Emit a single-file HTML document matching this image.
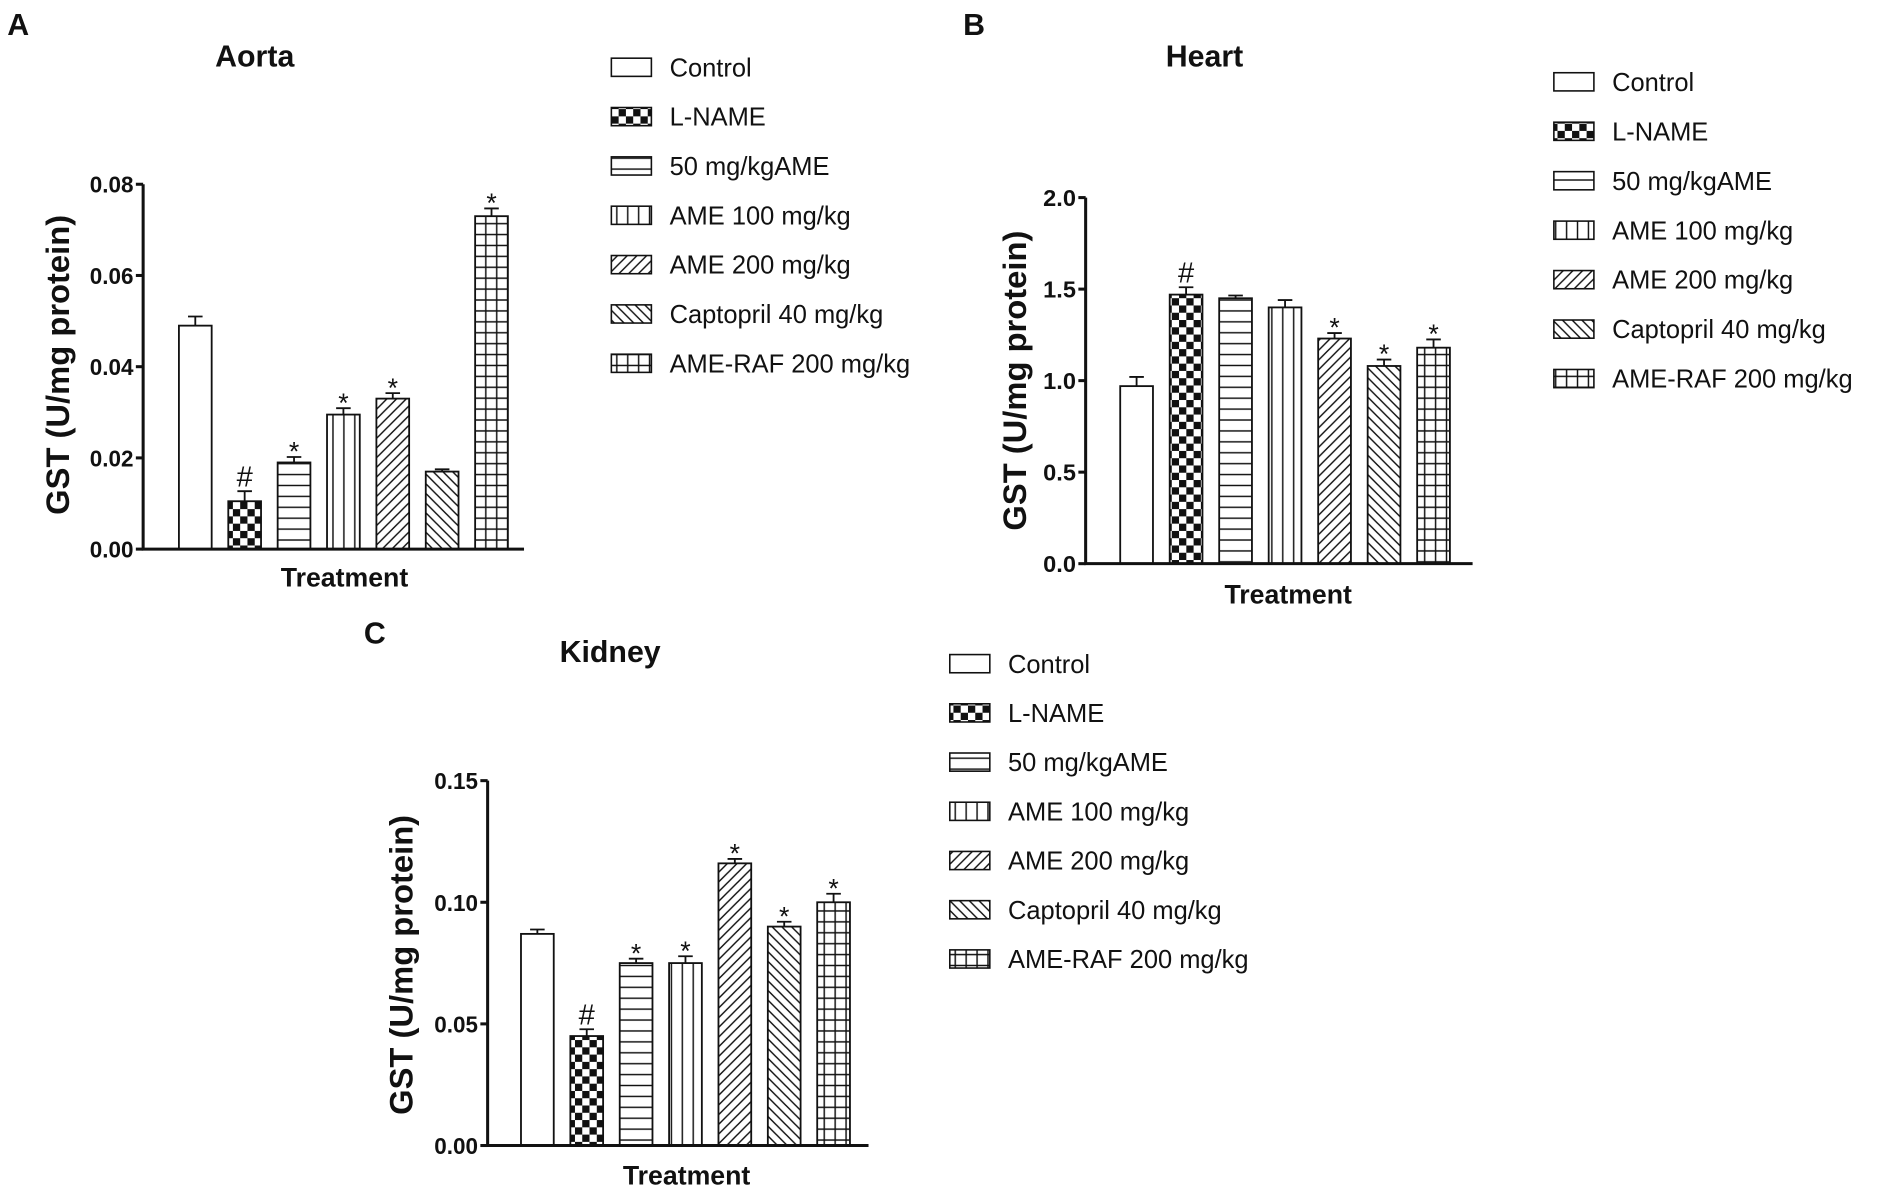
<!DOCTYPE html>
<html><head><meta charset="utf-8"><style>
html,body{margin:0;padding:0;background:#fff;}
svg{display:block;}
text{font-family:"Liberation Sans",sans-serif;fill:#111;}
.b{font-weight:bold;}
.leg{font-family:"Liberation Sans Narrow","Liberation Sans",sans-serif;font-size:21px;}
</style></head><body>
<svg id="fig" width="1902" height="1194" viewBox="0 0 1568 985" preserveAspectRatio="none" xmlns="http://www.w3.org/2000/svg">
<defs>
<pattern id="p-check" patternUnits="userSpaceOnUse" width="12" height="12"><rect width="12" height="12" fill="#fff"/><rect width="6" height="6" fill="#111"/><rect x="6" y="6" width="6" height="6" fill="#111"/></pattern>
<pattern id="p-hor" patternUnits="userSpaceOnUse" width="10" height="9"><rect width="10" height="9" fill="#fff"/><line x1="0" y1="4.5" x2="10" y2="4.5" stroke="#111" stroke-width="1.2"/></pattern>
<pattern id="p-ver" patternUnits="userSpaceOnUse" width="9" height="10"><rect width="9" height="10" fill="#fff"/><line x1="4.5" y1="0" x2="4.5" y2="10" stroke="#111" stroke-width="1.2"/></pattern>
<pattern id="p-fwd" patternUnits="userSpaceOnUse" width="8" height="8"><rect width="8" height="8" fill="#fff"/><path d="M-2,2 L2,-2 M0,8 L8,0 M6,10 L10,6" stroke="#111" stroke-width="1.2"/></pattern>
<pattern id="p-bwd" patternUnits="userSpaceOnUse" width="8" height="8"><rect width="8" height="8" fill="#fff"/><path d="M-2,6 L2,10 M0,0 L8,8 M6,-2 L10,2" stroke="#111" stroke-width="1.2"/></pattern>
<pattern id="p-grid" patternUnits="userSpaceOnUse" width="9" height="9"><rect width="9" height="9" fill="#fff"/><path d="M4.5,0 V9 M0,4.5 H9" stroke="#111" stroke-width="1.2"/></pattern>
</defs>
</svg>
<script>
var categories = ["Control","L-NAME","50 mg/kgAME","AME 100 mg/kg","AME 200 mg/kg","Captopril 40 mg/kg","AME-RAF 200 mg/kg"];
var fills = ["#fff","url(#p-check)","url(#p-hor)","url(#p-ver)","url(#p-fwd)","url(#p-bwd)","url(#p-grid)"];
var aortaValues = [0.049,0.0105,0.019,0.0295,0.033,0.017,0.073];
var aortaErrors = [0.002,0.0022,0.0012,0.0014,0.0012,0.0005,0.0017];
var aortaMarks = ["","#","*","*","*","","*"];
var aortaTicks = ["0.00","0.02","0.04","0.06","0.08"];
var heartValues = [0.97,1.47,1.45,1.40,1.23,1.08,1.18];
var heartErrors = [0.05,0.04,0.015,0.04,0.03,0.035,0.045];
var heartMarks = ["","#","","","*","*","*"];
var heartTicks = ["0.0","0.5","1.0","1.5","2.0"];
var kidneyValues = [0.087,0.045,0.075,0.075,0.116,0.090,0.100];
var kidneyErrors = [0.0018,0.0028,0.0018,0.0028,0.0018,0.002,0.0035];
var kidneyMarks = ["","#","*","*","*","*","*"];
var kidneyTicks = ["0.00","0.05","0.10","0.15"];

var NS = "http://www.w3.org/2000/svg";
var svg = document.getElementById('fig');
function mk(tag, attrs, parent, txt){
  var e = document.createElementNS(NS, tag);
  for (var k in attrs) e.setAttribute(k, attrs[k]);
  if (txt !== undefined) e.textContent = txt;
  (parent || svg).appendChild(e);
  return e;
}
function panel(cfg){
  var g = mk('g', {});
  
  
  var ymax = parseFloat(cfg.ticks[cfg.ticks.length-1]);
  function y(v){ return cfg.y0 - (v / ymax) * (cfg.y0 - cfg.yTop); }
  function x(i){ return cfg.x0 + cfg.first + i * cfg.step; }
  var t;
  t = mk('text', {x: cfg.letterX, y: cfg.letterY, 'class':'b', 'font-size':25}, g, cfg.letter);
  
  
  t = mk('text', {x: cfg.titleX, y: cfg.titleY, 'class':'b', 'font-size':25, 'text-anchor':'middle'}, g, cfg.title);
  
  
  for (var i = 0; i < cfg.values.length; i++){
    var top = y(cfg.values[i]);
    var r = mk('rect', {x: x(i) - 13.5, y: top, width: 27, height: cfg.y0 - top, fill: fills[i], stroke: '#111', 'stroke-width': 1.5}, g);
    
    
    var et = y(cfg.values[i] + cfg.errors[i]);
    var eb = mk('path', {d: 'M' + x(i) + ',' + top + ' V' + et + ' M' + (x(i)-6) + ',' + et + ' H' + (x(i)+6), stroke: '#111', 'stroke-width': 1.5, fill: 'none'}, g);
    
    
    if (cfg.marks[i]){
      var isHash = cfg.marks[i] === '#';
      var m = mk('text', {x: x(i), y: et - (isHash ? 4 : -3), 'font-size': isHash ? 24 : 22, 'text-anchor': 'middle'}, g, cfg.marks[i]);
      
      
    }
  }
  var ax = mk('path', {d: 'M' + cfg.x0 + ',' + cfg.yTop + ' V' + cfg.y0 + ' H' + cfg.xEnd, stroke: '#111', 'stroke-width': 2.5, fill: 'none'}, g);
  
  
  for (var k = 0; k < cfg.ticks.length; k++){
    var ty = y(parseFloat(cfg.ticks[k]));
    var tk = mk('line', {x1: cfg.x0 - 6, x2: cfg.x0, y1: ty, y2: ty, stroke: '#111', 'stroke-width': 2.5}, g);
    
    
    var tl = mk('text', {x: cfg.x0 - 8, y: ty + 7, 'class':'b', 'font-size': 19, 'text-anchor': 'end', textLength: cfg.tickW, lengthAdjust: 'spacingAndGlyphs'}, g, cfg.ticks[k]);
    
    
  }
  var yt = mk('text', {x: 0, y: 0, 'class':'b', 'font-size': 27, 'text-anchor':'middle', transform: 'translate(' + cfg.ytX + ',' + cfg.ytY + ') rotate(-90)'}, g, 'GST (U/mg protein)');
  
  
  var xt = mk('text', {x: cfg.xtX, y: cfg.xtY, 'class':'b', 'font-size': 22, 'text-anchor':'middle'}, g, 'Treatment');
  
  
  for (var j = 0; j < categories.length; j++){
    var ly = cfg.legY + j * cfg.legStep;
    var lg = mk('g', {}, g);
    
    
    mk('rect', {x: cfg.legX, y: ly - 7, width: 33, height: 15, fill: fills[j], stroke: '#111', 'stroke-width': 1.3}, lg);
    mk('text', {x: cfg.legX + 48, y: ly + 8, 'class': 'leg'}, lg, categories[j]);
  }
}
panel({name:'aorta', letter:'A', letterX:6, letterY:29, title:'Aorta', titleX:210, titleY:55,
  values:aortaValues, errors:aortaErrors, marks:aortaMarks, ticks:aortaTicks, tickW:36,
  x0:118, y0:453, yTop:152, xEnd:432, first:43, step:40.7,
  ytX:57, ytY:301, xtX:284, xtY:484, legX:504, legY:55, legStep:40.7});
panel({name:'heart', letter:'B', letterX:794, letterY:29, title:'Heart', titleX:993, titleY:55,
  values:heartValues, errors:heartErrors, marks:heartMarks, ticks:heartTicks, tickW:27,
  x0:895, y0:465, yTop:163, xEnd:1214, first:42, step:40.8,
  ytX:846, ytY:314, xtX:1062, xtY:498, legX:1281, legY:67, legStep:40.8});
panel({name:'kidney', letter:'C', letterX:300, letterY:531, title:'Kidney', titleX:503, titleY:546,
  values:kidneyValues, errors:kidneyErrors, marks:kidneyMarks, ticks:kidneyTicks, tickW:36,
  x0:402, y0:945, yTop:644, xEnd:716, first:41, step:40.7,
  ytX:340, ytY:796, xtX:566, xtY:977, legX:783, legY:547, legStep:40.6});
</script>
</body></html>
